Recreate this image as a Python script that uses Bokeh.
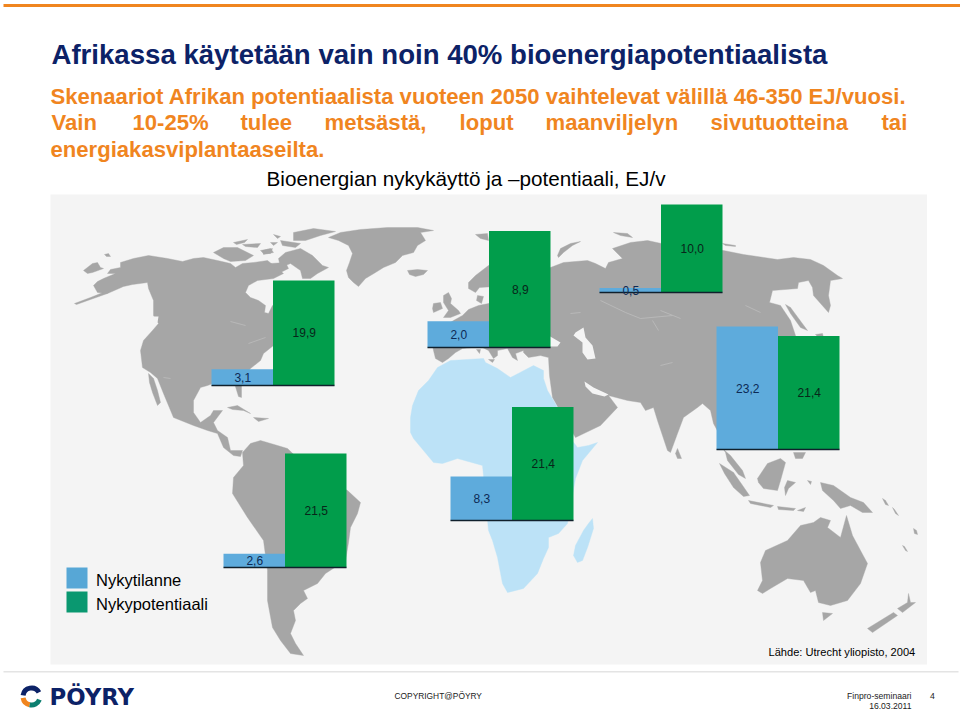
from bokeh.embed import file_html
from bokeh.resources import INLINE
from bokeh.plotting import figure
from bokeh.models import Range1d, ColumnDataSource
from bokeh.core.properties import value

# ---------- chart values ----------
regions = ["Pohjois-Amerikka", "Eurooppa", "Venäjä", "Aasia", "Afrikka", "Etelä-Amerikka"]
current = [3.1, 2.0, 0.5, 23.2, 8.3, 2.6]
potential = [19.9, 8.9, 10.0, 21.4, 21.4, 21.5]
current_labels = ["3,1", "2,0", "0,5", "23,2", "8,3", "2,6"]
potential_labels = ["19,9", "8,9", "10,0", "21,4", "21,4", "21,5"]
legend_labels = ["Nykytilanne", "Nykypotentiaali"]

# ---------- layout of the small charts placed on the map ----------
panel_left = [211, 427, 599, 716, 450, 223]
panel_base = [385, 347, 292, 449, 520, 567]
panel_px_per_unit = [5.28, 13.1, 8.8, 5.3, 5.3, 5.3]
BAR_W = 61.5
W, H = 960, 711

BG = "#f4f4f4"
GREY = "#a6a6a6"
AFRICA = "#bce2f7"
BLUE = "#5eabdc"
GREEN = "#019d4b"
ORANGE = "#f0851f"
NAVY = "#0c2267"

# ---------- map outlines ----------
land = [
 # North and Central America
 [(93,285),(97,281),(103,278),(115,273),(107,273),(110,269),(120,267),(120,262),(133,258),(148,255),(167,258),(182,261),
  (193,258),(203,257),(217,260),(230,263),(235,267),(242,263),(253,262),(267,260),(277,268),(283,273),(273,278),(257,280),
  (248,285),(245,292),(250,297),(258,300),(265,305),(264,312),(268,313),(272,305),(290,310),(285,345),(273,345),(263,353),
  (260,360),(250,368),(240,380),(215,382),(207,385),(200,387),(193,400),(193,412),(200,422),(210,415),(213,410),(222,410),
  (213,422),(217,430),(227,437),(230,450),(242,450),(240,456),(233,455),(223,447),(217,433),(207,430),(193,425),(173,417),
  (163,393),(157,378),(150,372),(142,367),(140,350),(143,340),(152,330),(158,323),(153,315),(153,300),(148,288),(147,282),
  (132,284),(123,286),(107,293),(97,292)],
 # Baja California, Florida, Alaska islands
 [(148,373),(153,378),(157,390),(160,402),(157,405),(152,392),(149,382)],
 [(234,383),(241,383),(241,397),(238,396)],
 [(74,303),(90,297),(105,291),(107,293),(90,299),(76,304)],
 [(83,270),(92,263),(97,262),(100,267),(103,268),(92,272),(87,273)],
 [(104,254),(108,253),(110,256),(106,256)],
 # Arctic Canada
 [(213,252),(223,247),(237,247),(253,255),(245,260),(230,261),(223,258)],
 [(233,242),(247,239),(244,242),(236,244)],
 [(242,244),(260,243),(257,247),(245,246)],
 [(260,250),(272,248),(270,253),(263,253)],
 [(270,242),(277,242),(273,245)],
 [(273,234),(280,236),(277,238)],
 [(293,232),(313,228),(335,231),(320,235),(305,240),(293,240)],
 [(285,252),(300,248),(312,255),(322,265),(328,267),(317,273),(310,278),(302,278),(300,270),(290,263),(280,267),(278,258)],
 [(262,250),(270,248),(273,252),(263,254)],
 [(280,240),(300,243),(295,247),(282,245)],
 [(270,263),(285,262),(288,268),(278,273)],
 # Greenland, Iceland, British Isles, Svalbard
 [(328,237),(340,232),(360,229),(387,227),(417,227),(433,230),(420,232),(425,240),(417,245),(413,252),(402,255),(395,262),
  (383,267),(375,272),(365,278),(358,286),(353,282),(348,277),(346,270),(349,262),(352,253),(348,245),(338,240)],
 [(407,270),(417,269),(427,270),(423,274),(415,276),(409,274)],
 [(443,295),(448,292),(451,298),(450,303),(458,310),(460,313),(450,317),(443,317),(448,310),(443,302)],
 [(433,303),(440,302),(442,308),(433,312),(432,308)],
 [(475,234),(487,233),(488,240),(480,238)],
 # Scandinavia and Denmark
 [(468,282),(475,275),(488,265),(495,262),(495,286),(479,287),(475,292),(468,288)],
 [(477,295),(483,296),(481,303),(476,300)],
 # Eurasia
 [(453,320),(462,315),(468,309),(478,305),(488,303),(520,280),(550,267),(563,262),(587,260),(595,263),(605,268),(608,262),
  (622,258),(612,248),(630,242),(647,240),(670,245),(723,250),(743,254),(777,259),(793,257),(810,259),(823,265),(837,275),
  (842,278),(830,280),(828,295),(830,305),(828,312),(813,295),(812,287),(808,280),(798,282),(797,288),(772,290),(769,302),
  (780,305),(790,320),(795,335),(800,400),(790,445),(725,445),(713,423),(710,410),(702,403),(697,407),(683,417),(677,433),
  (670,452),(667,450),(657,420),(653,407),(645,410),(640,402),(627,400),(608,395),(617,407),(600,425),(575,437),(565,420),
  (552,397),(549,375),(548,357),(540,355),(528,357),(523,352),(523,350),(515,353),(517,360),(512,357),(507,348),(497,350),
  (497,355),(493,358),(488,350),(480,346),(462,348),(455,352),(448,358),(442,362),(435,358),(433,350),(430,335)],
 [(557,255),(560,248),(570,243),(580,241),(572,245),(563,252),(558,257)],
 [(613,232),(627,233),(632,237),(620,235)],
 [(722,243),(735,245),(735,246),(725,245)],
 [(785,304),(790,307),(807,330),(800,327),(790,313)],
 [(815,334),(822,333),(823,337),(818,337)],
 # Mediterranean islands
 [(476,349),(480,349),(479,353)],
 [(488,359),(494,359),(492,362)],
 # South-east Asia, Sri Lanka
 [(723,449),(730,455),(742,470),(745,478),(738,474),(727,460),(725,452)],
 [(677,448),(681,458),(677,458),(675,453)],
 [(719,463),(733,472),(740,482),(749,495),(743,496),(733,487),(724,473)],
 [(748,500),(773,505),(770,507),(750,503)],
 [(777,506),(795,508),(793,510),(778,509)],
 [(797,510),(805,507),(803,511)],
 [(757,478),(767,463),(780,458),(785,462),(780,480),(777,490),(763,488),(758,482)],
 [(787,480),(795,482),(788,488),(785,495),(784,487)],
 [(793,452),(805,452),(802,458),(795,458)],
 [(807,480),(811,481),(810,484)],
 [(820,482),(833,485),(850,497),(863,502),(872,512),(862,512),(850,505),(840,508),(833,500),(822,490)],
 # South America and Caribbean
 [(242,452),(250,443),(260,440),(277,445),(287,448),(310,470),(347,490),(360,502),(357,513),(350,527),(348,542),(345,560),
  (325,573),(317,583),(303,590),(307,598),(300,603),(293,610),(295,620),(290,633),(295,643),(303,655),(290,653),(280,640),
  (272,627),(267,600),(267,570),(263,540),(247,517),(232,493),(233,477),(243,465)],
 [(227,407),(237,405),(250,413),(243,410),(232,409)],
 [(253,417),(268,418),(258,421)],
 # Australia, Tasmania, New Zealand, Pacific
 [(757,590),(762,580),(760,562),(765,550),(787,540),(800,525),(813,522),(820,517),(830,520),(827,527),(840,537),(846,515),
  (852,535),(860,550),(867,563),(860,583),(847,600),(830,605),(818,602),(815,590),(810,592),(803,580),(787,578),(770,588),(762,593)],
 [(822,612),(832,613),(823,620)],
 [(908,593),(910,602),(915,602),(902,612),(897,608),(907,602)],
 [(867,628),(893,612),(897,615),(872,632)],
 [(913,528),(916,530),(917,534),(914,533)],
 [(902,545),(904,546),(907,551),(905,550)],
 [(882,498),(885,500),(888,505),(885,504)],
 [(892,507),(894,509),(898,515),(895,513)],
]
africa = [
 [(483,358),(450,360),(437,367),(428,380),(418,390),(412,405),(410,417),(410,432),(413,438),(423,450),(433,462),(442,463),
  (457,458),(482,465),(483,475),(488,530),(492,540),(497,557),(502,583),(507,592),(523,588),(537,573),(543,558),(548,547),
  (548,537),(558,533),(567,523),(575,478),(582,460),(597,442),(588,445),(577,447),(560,425),(556,405),(547,390),(543,378),
  (543,370),(533,365),(510,377),(497,368),(485,362)],
 [(592,518),(593,528),(587,547),(582,560),(577,562),(573,555),(575,545),(583,530),(588,523)],
]
water = [
 [(575,332),(583,327),(585,337),(592,345),(595,358),(587,359),(582,352),(582,342),(573,335)],
 [(548,335),(560,342),(557,346),(548,346)],
 [(584,381),(593,387),(608,394),(604,396),(592,393),(585,386)],
 [(153,316),(158,316),(157,322),(154,322)],
]
# faint country and river lines seen inside the grey land
lines = [
 [(230,321),(245,325)],[(248,343),(265,337)],[(163,377),(170,378)],
 [(600,300),(625,312),(640,318),(672,315)],[(660,310),(680,318)],[(745,305),(760,312)],
 [(570,313),(580,312)],[(660,365),(672,362)],[(652,320),(658,330)],
]

def xs_ys(polys):
    return [[pt[0] for pt in poly] for poly in polys], [[pt[1] for pt in poly] for poly in polys]

# ---------- figure: one pixel of the frame equals one pixel of the photo ----------
p = figure(width=W, height=H, x_range=Range1d(0, W), y_range=Range1d(H, 0),
           x_axis_type=None, y_axis_type=None, toolbar_location=None, output_backend="svg",
           min_border=0, outline_line_color=None, background_fill_color="white",
           border_fill_color="white", styles={"position": "absolute", "left": "0px", "top": "0px"})
p.grid.visible = False

# frame lines
p.quad(left=[3], right=[960], top=[3.5], bottom=[6.5], color=ORANGE, line_color=None)
p.quad(left=[3], right=[958], top=[670.5], bottom=[672], color="#e4e4e4", line_color=None)
# map background
p.quad(left=[50], right=[926.5], top=[194], bottom=[664], color=BG, line_color=None)

x, y = xs_ys(land)
p.patches(x, y, fill_color=GREY, line_color=GREY, line_width=0.4)
x, y = xs_ys(lines)
p.multi_line(x, y, line_color="#bcbcbc", line_width=0.8)
x, y = xs_ys(water)
p.patches(x, y, fill_color=BG, line_color=None)
x, y = xs_ys(africa)
p.patches(x, y, fill_color=AFRICA, line_color=AFRICA, line_width=0.4)

def label(txt, x, y, size, color="black", bold=False, align="left"):
    p.text(x=[x], y=[y], text=[txt], text_font=value("Liberation Sans"), text_font_size=f"{size}px",
           text_color=color, text_baseline="middle", text_align=align,
           text_font_style="bold" if bold else "normal")

# small charts, each with its own value scale
for i, name in enumerate(regions):
    base, k = panel_base[i], panel_px_per_unit[i]
    rng = f"r{i}"
    p.extra_y_ranges[rng] = Range1d(start=(base - H) / k, end=base / k)
    src = ColumnDataSource(dict(x=[panel_left[i] + BAR_W / 2, panel_left[i] + BAR_W * 1.5],
                                top=[current[i], potential[i]],
                                bottom=[0, 0], color=[BLUE, GREEN]))
    p.vbar(x="x", top="top", bottom="bottom", width=BAR_W, color="color", line_color=None,
           source=src, y_range_name=rng)
    p.segment(x0=[panel_left[i]], x1=[panel_left[i] + 2 * BAR_W], y0=[0], y1=[0],
              line_color="#10202c", line_width=1.6, y_range_name=rng)
    p.text(x=[panel_left[i] + BAR_W / 2 + 0.5], y=[current[i] / 2], text=[current_labels[i]],
           text_font=value("Liberation Sans"), text_font_size="12px", text_color="#0c2a55",
           text_align="center", text_baseline="middle", y_range_name=rng)
    p.text(x=[panel_left[i] + BAR_W * 1.5 + 0.5], y=[potential[i] / 2], text=[potential_labels[i]],
           text_font=value("Liberation Sans"), text_font_size="12px", text_color="#08261a",
           text_align="center", text_baseline="middle", y_range_name=rng)

# titles
label("Afrikassa käytetään vain noin 40% bioenergiapotentiaalista", 51, 54, 27.6, NAVY, True)
label("Skenaariot Afrikan potentiaalista vuoteen 2050 vaihtelevat välillä 46-350 EJ/vuosi.", 50, 96, 22.1, ORANGE, True)
for word, wx in zip(["Vain", "10-25%", "tulee", "metsästä,", "loput", "maanviljelyn", "sivutuotteina", "tai"],
                    [51, 132, 240, 324, 459, 545, 710, 881]):
    label(word, wx, 122, 22.1, ORANGE, True)
label("energiakasviplantaaseilta.", 50, 149, 22.1, ORANGE, True)
label("Bioenergian nykykäyttö ja –potentiaali, EJ/v", 266, 178, 20.7)

# legend
p.quad(left=[66], right=[87], top=[567], bottom=[588], color="#57a7d6", line_color=None)
p.quad(left=[66], right=[87], top=[591], bottom=[612], color="#0a9870", line_color=None)
label(legend_labels[0], 95.5, 579.5, 16.5)
label(legend_labels[1], 95.5, 603.5, 16.5)
label("Lähde: Utrecht yliopisto, 2004", 768, 651, 11.1)

# footer
label("COPYRIGHT@PÖYRY", 394, 695, 8.4, "#222222")
label("Finpro-seminaari", 911, 695, 8.6, "#222222", align="right")
label("16.03.2011", 911, 705, 8.6, "#222222", align="right")
label("4", 932, 695, 8.6, "#222222", align="center")

# logo
p.annular_wedge(x=[31], y=[696], inner_radius=6, outer_radius=11, start_angle=[0.5], end_angle=[3.0],
                color=NAVY, line_color=None)
p.annular_wedge(x=[31], y=[696], inner_radius=6, outer_radius=11, start_angle=[3.3], end_angle=[4.5],
                color=ORANGE, line_color=None)
p.annular_wedge(x=[31], y=[696], inner_radius=6, outer_radius=11, start_angle=[4.5], end_angle=[5.9],
                color="#0c7f70", line_color=None)
p.text(x=[49], y=[696], text=["PÖYRY"], text_font=value("DejaVu Sans"), text_font_style="bold",
       text_font_size="22.8px", text_color=NAVY, text_baseline="middle")

open("out.html", "w").write(file_html(p, INLINE))
